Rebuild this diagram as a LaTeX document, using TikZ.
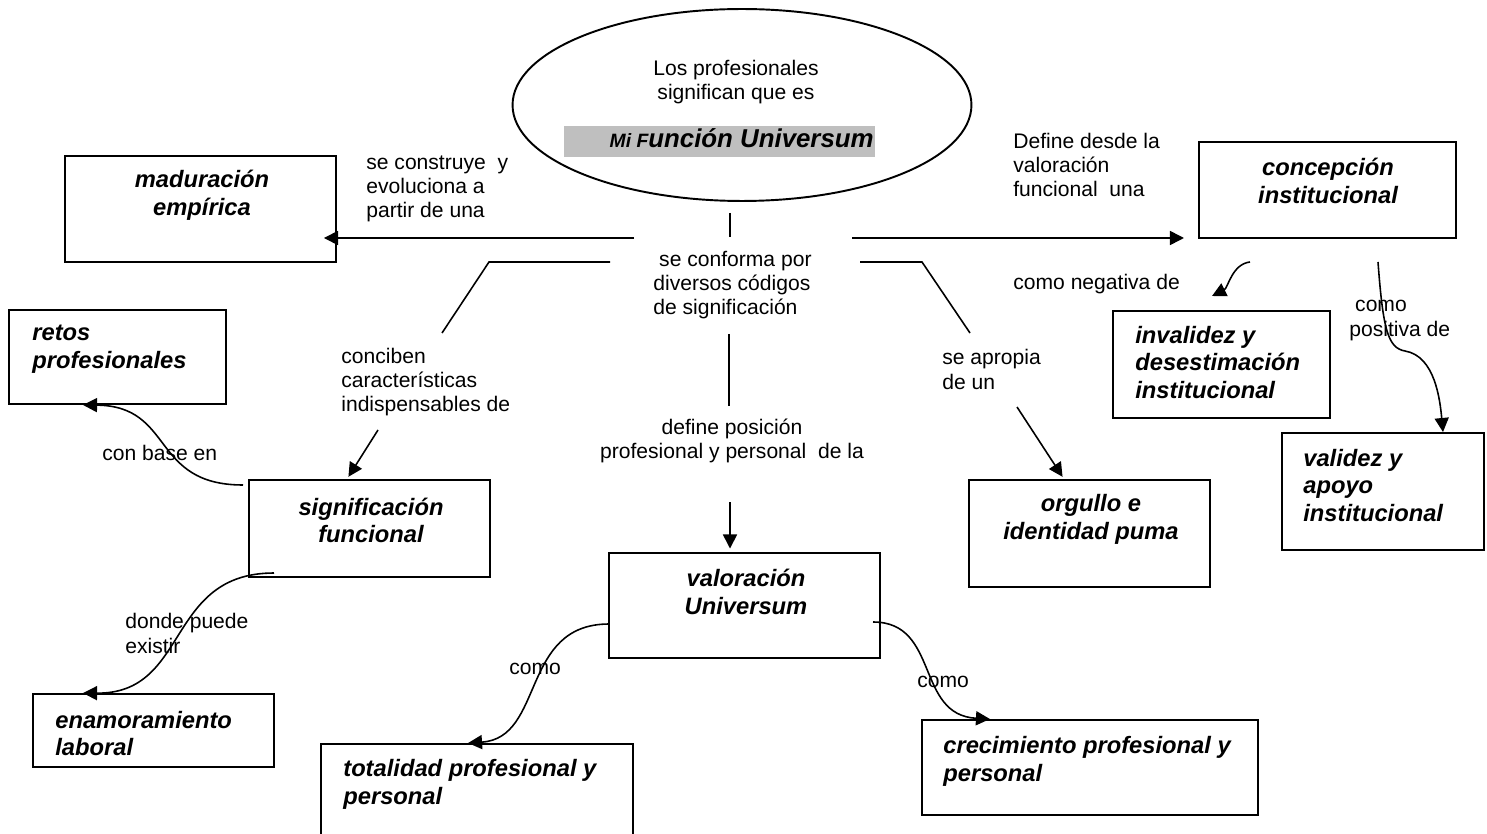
\documentclass[tikz,border=0pt]{standalone}
\usepackage{fontspec}
\setmainfont{Liberation Sans}
\usetikzlibrary{arrows.meta,fit,shapes.geometric}

\begin{document}
\begin{tikzpicture}[x=0.02cm,y=-0.02cm,
    box/.style={draw,line width=1.1pt,inner sep=0pt},
    bt/.style={inner sep=0pt,font=\fontsize{13.5}{15.8}\selectfont\bfseries\itshape},
    lbl/.style={inner sep=0pt,align=left,font=\fontsize{12}{13.8}\selectfont},
    ln/.style={line width=0.9pt},
    arr/.style={ln,-{Triangle[length=8pt,width=8pt]}}
]
\useasboundingbox (0,0) rectangle (1487,834);

% ellipse on top
\node[draw,ellipse,line width=1.1pt,inner sep=0pt,minimum width=9.18cm,minimum height=3.84cm] (ell) at (742,105) {};
\node[lbl,align=center] (ellT) at (736,82) {Los profesionales\\significan que es};
\fill[gray!50] (564,126) rectangle (875,157);
\node[anchor=base east,inner sep=0pt,font=\bfseries\itshape] (title) at (874,148)
    {{\fontsize{11}{13}\selectfont Mi F}\fontsize{14.7}{17}\selectfont unción Universum};

% boxes
\foreach \n/\a/\b in {mad/{65,156}/{336,262},ret/{9,310}/{226,404},sig/{249,480}/{490,577},
    ena/{33,694}/{274,767},val/{609,553}/{880,658},tot/{321,744}/{633,845},
    cre/{922,720}/{1258,815},org/{969,480}/{1210,587},conc/{1199,142}/{1456,238},
    inv/{1113,311}/{1330,418},vali/{1282,433}/{1484,550}}
    \node[box,fit={(\a)(\b)}] (\n) {};

\node[bt,align=center] (madT) at (202,195.5) {maduración\\empírica};
\node[bt,align=left,anchor=west] (retT) at (32,349.5) {retos\\profesionales};
\node[bt,align=center] (sigT) at (371,520.5) {significación\\funcional};
\node[bt,align=left,anchor=west] (enaT) at (55,733.5) {enamoramiento\\laboral};
\node[bt,align=center] (valT) at (746,592) {valoración\\Universum};
\node[bt,align=left,anchor=west] (totT) at (343,784.5) {totalidad profesional y\\personal};
\node[bt,align=left,anchor=west] (creT) at (943,761) {crecimiento profesional y\\personal};
\node[bt,align=center] (orgT) at (1091,519.5) {orgullo e\\identidad puma};
\node[bt,align=center] (concT) at (1328,181) {concepción\\institucional};
\node[bt,align=left,anchor=west] (invT) at (1135,362.5) {invalidez y\\desestimación\\institucional};
\node[bt,align=left,anchor=west] (valiT) at (1303,485.5) {validez y\\apoyo\\institucional};

% link words
\node[lbl,anchor=west] (constr) at (366,189) {se construye\ \ y\\evoluciona a\\partir de una};
\node[lbl,anchor=west] (confo) at (653,285) {\ se conforma por\\diversos códigos\\de significación};
\node[lbl,anchor=west] (defdes) at (1013,165) {Define desde la\\valoración\\funcional\ \ una};
\node[lbl,anchor=west] (concib) at (341,382) {conciben\\características\\indispensables de};
\node[lbl,align=center] (defpos) at (732,441) {define posición\\profesional y personal\ \ de la};
\node[lbl,anchor=west] (aprop) at (942,369.5) {se apropia\\de un};
\node[lbl,anchor=west] (negat) at (1013,284) {como negativa de};
\node[lbl,anchor=west] (posit) at (1349,320.5) {\ como\\positiva de};
\node[lbl,anchor=west] (cbase) at (102,453) {con base en};
\node[lbl,anchor=west] (donde) at (125,633.5) {donde puede\\existir};
\node[lbl,anchor=west] (comoL) at (509,669) {como};
\node[lbl,anchor=west] (comoR) at (917,682) {como};

% connectors
\coordinate (tkA) at (730,213);
\coordinate (tkB) at (730,237);
\draw[ln] (tkA) -- (tkB);
\coordinate (mL) at (634,238);
\draw[arr,shorten >=-7.4pt] (mL) -- (mL -| mad.east);
\coordinate (mR) at (852,238);
\draw[arr,shorten >=8pt] (mR) -- (mR -| conc.west);
\coordinate (brL) at (610,262);
\coordinate (brLe) at (442,333);
\draw[ln] (brL) -- ++(-121,0) -- (brLe);
\coordinate (brR) at (860,262);
\coordinate (brRe) at (970,333);
\draw[ln] (brR) -- ++(62,0) -- (brRe);
\coordinate (vA) at (729,334);
\coordinate (vB) at (729,406);
\draw[ln] (vA) -- (vB);
\coordinate (dA) at (730,502);
\draw[arr,shorten >=2pt] (dA) -- (dA |- val.north);
\coordinate (sA) at (378,430);
\draw[arr,shorten >=1.5pt] (sA) -- (sig.north -| 347,0);
\coordinate (oA) at (1017,407);
\draw[arr,shorten >=1.5pt] (oA) -- (org.north -| 1064,0);

\coordinate (cbS) at (243,485);
\draw[arr] (cbS) .. controls (150,485) and (175,406) .. (ret.south -| 83,0);
\coordinate (dnS) at (274,573);
\draw[arr] (dnS) .. controls (165,573) and (190,694) .. (ena.north -| 83,0);
\coordinate (vlS) at (609,624);
\draw[arr] (vlS) .. controls (520,624) and (545,738) .. (tot.north -| 468,0);
\coordinate (vrS) at (873,622);
\draw[arr] (vrS) .. controls (940,622) and (915,715) .. (cre.north -| 990,0);
\coordinate (ngS) at (1250,262);
\coordinate (ngE) at (1212,296);
\draw[arr] (ngS) .. controls (1232,264) and (1228,288) .. (ngE);
\coordinate (psS) at (1378,262);
\draw[arr] (psS) .. controls (1383,330) and (1388,348) .. (1405,351)
    .. controls (1435,356) and (1440,400) .. (vali.north -| 1443,0);
\end{tikzpicture}
\end{document}
